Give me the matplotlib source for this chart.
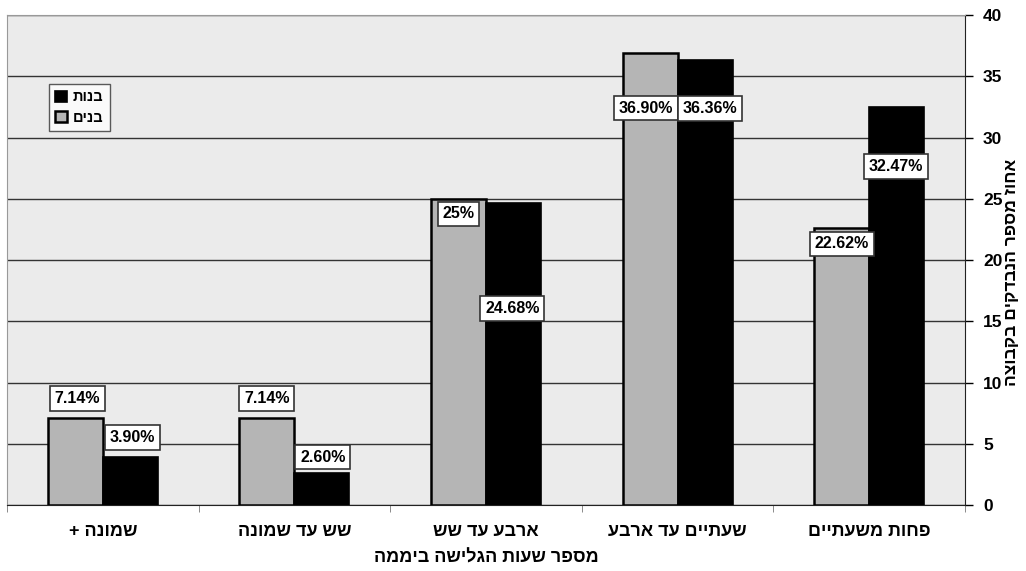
import numpy as np
import matplotlib
matplotlib.use("Agg")
import matplotlib.pyplot as plt

plt.rcParams['font.family'] = ['Liberation Sans', 'DejaVu Sans']
plt.rcParams['font.weight'] = 'bold'

# categories, left to right as drawn (logical Hebrew, reversed for display below)
categories = ["שמונה +", "שש עד שמונה", "ארבע עד שש", "שעתיים עד ארבע", "פחות משעתיים"]
boys = [7.14, 7.14, 25.0, 36.90, 22.62]    # בנים (gray)
girls = [3.90, 2.60, 24.68, 36.36, 32.47]  # בנות (black)
boys_labels = ["7.14%", "7.14%", "25%", "36.90%", "22.62%"]
girls_labels = ["3.90%", "2.60%", "24.68%", "36.36%", "32.47%"]
xlabel = "מספר שעות הגלישה ביממה"
ylabel = "אחוז מספר הנבדקים בקבוצה"
legend_boys = "בנים"
legend_girls = "בנות"

# label offsets from bar top, in pixels (placed by hand in the original)
boys_off = [(2, 19), (0, 19), (0, -15), (-4, -55), (0, -16)]
girls_off = [(2, 20), (1, 16), (-1, -106), (5, -49), (-1, -59)]


def heb(s):
    # matplotlib draws left to right, so flip Hebrew to visual order
    return s[::-1]


fig = plt.figure(figsize=(10.26, 5.71), dpi=100)
ax = fig.add_axes([0.0068, 0.1156, 0.9337, 0.858])
ax.set_facecolor('#ebebeb')

x = np.arange(len(categories))
w = 0.287
b1 = ax.bar(x - w / 2, boys, w, color='#b5b5b5', edgecolor='black', linewidth=1.8, zorder=3)
b2 = ax.bar(x + w / 2, girls, w, color='black', edgecolor='black', linewidth=1.2, zorder=3)

box = dict(boxstyle='square,pad=0.3', facecolor='white', edgecolor='#333333', linewidth=1.2)
for i in range(len(categories)):
    ax.annotate(boys_labels[i], (x[i] - w / 2, boys[i]), xytext=boys_off[i],
                textcoords='offset pixels', ha='center', va='center',
                fontsize=11.5, fontweight='bold', bbox=box, zorder=5)
    ax.annotate(girls_labels[i], (x[i] + w / 2, girls[i]), xytext=girls_off[i],
                textcoords='offset pixels', ha='center', va='center',
                fontsize=11.5, fontweight='bold', bbox=box, zorder=5)

ax.set_xlim(-0.5, len(categories) - 0.5)
ax.set_ylim(0, 40)
ax.set_yticks(np.arange(0, 41, 5))
ax.yaxis.tick_right()
ax.yaxis.set_label_position('right')
ax.grid(axis='y', color='#333333', linewidth=1, zorder=1)
ax.tick_params(axis='y', length=6, width=1, labelsize=12.5, pad=7)

ax.set_xticks(x)
ax.set_xticklabels([heb(c) for c in categories], fontsize=13, fontweight='bold')
ax.set_xticks(np.arange(-0.5, len(categories), 1), minor=True)
ax.tick_params(axis='x', which='major', length=0, pad=13)
ax.tick_params(axis='x', which='minor', length=5, color='#777777')

ax.set_xlabel(heb(xlabel), fontsize=13, fontweight='bold', labelpad=7)
ax.set_ylabel(heb(ylabel), fontsize=12.5, fontweight='bold', rotation=90,
              ha='center', va='center')
ax.yaxis.set_label_coords(1.049, 0.475)

for s in ['top', 'left']:
    ax.spines[s].set_color('#999999')
ax.spines['right'].set_color('#222222')
ax.spines['bottom'].set_color('#222222')

leg = ax.legend([b2, b1], [heb(legend_girls), heb(legend_boys)], loc='upper left',
                bbox_to_anchor=(0.036, 0.875), fontsize=10.5, frameon=True, fancybox=False,
                handlelength=0.8, handleheight=0.8, handletextpad=0.4, borderpad=0.45,
                labelspacing=0.45)
leg.get_frame().set_edgecolor('#333333')
leg.get_frame().set_facecolor('white')
leg.get_frame().set_linewidth(1)

fig.savefig("out.png", dpi=100)
